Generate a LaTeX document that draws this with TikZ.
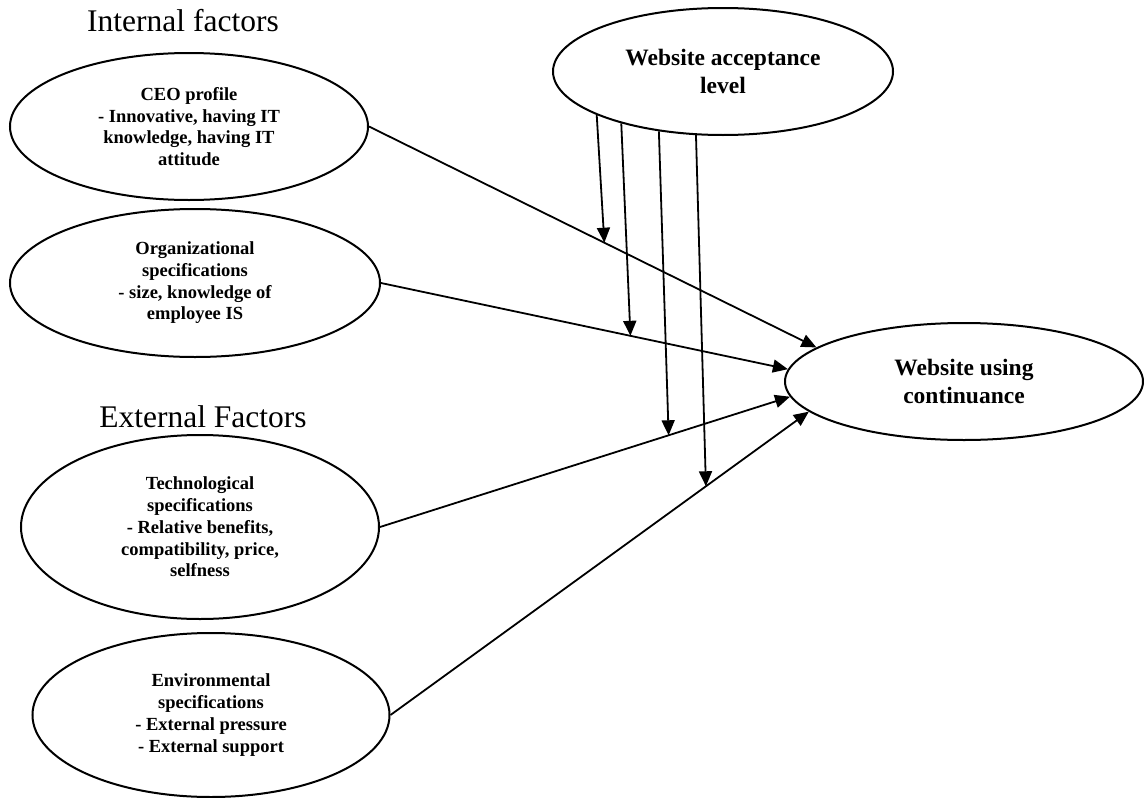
\documentclass[tikz,border=0pt]{standalone}
\usepackage{fontspec}
\setmainfont{Liberation Serif}
\usetikzlibrary{shapes.geometric,arrows.meta}

\begin{document}
\begin{tikzpicture}[x=1pt, y=-1pt,
  factor/.style={ellipse, draw, line width=2pt, inner sep=0pt, align=center,
    font=\bfseries\fontsize{18.5}{21.7}\selectfont},
  outcome/.style={factor, font=\bfseries\fontsize{23.5}{28}\selectfont},
  group/.style={font=\fontsize{31.5}{36}\selectfont},
  arr/.style={line width=1.8pt, -{Triangle[length=15pt, width=13pt]}}]

  \useasboundingbox (0,0) rectangle (1144,798);

  % Group headings.
  \node[group] (inthead) at (183,21) {Internal factors};
  \node[group] (exthead) at (203,417) {External Factors};

  % Internal factors.
  \node[factor, minimum width=358, minimum height=147] (ceo) at (189,126.5)
    {CEO profile\\- Innovative, having IT\\knowledge, having IT\\attitude};
  \node[factor, minimum width=370, minimum height=148] (org) at (195,283)
    {Organizational\\specifications\\- size, knowledge of\\employee IS};

  % External factors.
  \node[factor, minimum width=358, minimum height=184] (tech) at (200,527)
    {Technological\\specifications\\- Relative benefits,\\compatibility, price,\\selfness};
  \node[factor, minimum width=357, minimum height=164] (env) at (211,715)
    {Environmental\\specifications\\- External pressure\\- External support};

  % Moderator and outcome.
  \node[outcome, minimum width=340, minimum height=127] (acc) at (723,71.5)
    {Website acceptance\\level};
  \node[outcome, minimum width=358, minimum height=117] (cont) at (964,381.5)
    {Website using\\continuance};

  % Factors to outcome, with a point on each path for the moderator.
  \draw[arr] (ceo.east) -- coordinate[pos=.526] (m1) (cont.167);
  \draw[arr] (org.east) -- coordinate[pos=.613] (m2) (cont.176);
  \draw[arr] (tech.east) -- coordinate[pos=.704] (m3) (cont.185);
  \draw[arr] (env.east) -- coordinate[pos=.754] (m4) (cont.191);

  \foreach \a/\m in {199/m1, 207/m2, 223/m3, 247/m4}{
    \draw[arr] (acc.\a) -- (\m);
  }
\end{tikzpicture}
\end{document}
